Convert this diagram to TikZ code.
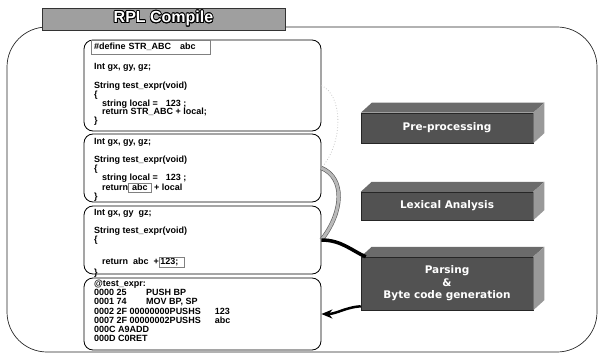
\documentclass[tikz,border=0pt]{standalone}
\usepackage{fontspec}
\setmainfont{Liberation Sans}
\newfontfamily\stagefont{DejaVu Sans}
\usepackage{contour}
\usetikzlibrary{arrows.meta,positioning,calc}

\contourlength{0.8pt}
\newcommand{\tokbox}[1]{{\setlength{\fboxsep}{1pt}\setlength{\fboxrule}{0.4pt}\color{gray}\fbox{\color{black}#1}}}

\begin{document}
\begin{tikzpicture}[x=1pt,y=-1pt,
	frame/.style={draw=black!85,line width=0.7pt,rounded corners=40pt},
	banner/.style={fill=gray!75,draw=black!80,line width=0.6pt,minimum width=243pt,minimum height=22pt,inner sep=0pt,font=\bfseries\fontsize{16}{18}\selectfont},
	codebox/.style={draw=black,line width=0.8pt,rounded corners=9pt,minimum width=237pt,inner sep=0pt},
	code/.style={anchor=north west,inner sep=0pt,align=left,font=\bfseries\fontsize{9}{8.9}\selectfont},
	stage/.style={fill=black!68,draw=black!85,line width=0.5pt,minimum width=172pt,inner sep=0pt,align=center,text=white,font=\stagefont\bfseries\fontsize{10.5}{12.5}\selectfont},
	stagetop/.style={fill=black!58},
	stageside/.style={fill=black!40}]
	\useasboundingbox (0,0) rectangle (601,358);
	% outer frame and title
	\draw[frame] (7,27) rectangle (597,352);
	\node[banner] (title) at (163.5,19) {\contour{black}{\textcolor{white}{RPL Compile}}};
	% code boxes
	\node[codebox,minimum height=91pt] (orig) at (202.5,85.5) {};
	\node[codebox,minimum height=68pt] (prep) at (202.5,168) {};
	\node[codebox,minimum height=68pt] (tok) at (202.5,240) {};
	\node[codebox,minimum height=72pt] (bytec) at (202.5,314) {};
	\node[code,draw=gray,inner xsep=3pt,inner ysep=3pt,text width=113pt] (defline) at (91,40) {\#define STR\_ABC\ \ \ abc};
	\node[code] (origtxt) at (94,63) {Int gx, gy, gz;\\[10pt]
		String test\_expr(void)\\
		\{\\
		\hspace*{8pt}string local =\hspace{8pt}123 ;\\
		\hspace*{8pt}return STR\_ABC + local;\\
		\}};
	\node[code] (preptxt) at (94,138) {Int gx, gy, gz;\\[9pt]
		String test\_expr(void)\\
		\{\\
		\hspace*{8pt}string local =\hspace{8pt}123 ;\\
		\hspace*{8pt}return\tokbox{\ abc\ } + local\\
		\}};
	\node[code] (toktxt) at (94,209) {Int gx, gy\ \ gz;\\[9pt]
		String test\_expr(void)\\
		\{\\[12pt]
		\hspace*{8pt}return\ \ abc\ \ +\tokbox{123;\ \ }\\
		\}};
	\node[code,font=\bfseries\fontsize{9}{9.2}\selectfont] (bytetxt) at (94,280) {@test\_expr:\\
		\makebox[52pt][l]{0000 25}PUSH BP\\
		\makebox[52pt][l]{0001 74}MOV BP, SP\\
		0002 2F 00000000PUSHS\hspace{14pt}123\\
		0007 2F 00000002PUSHS\hspace{14pt}abc\\
		000C A9ADD\\
		000D C0RET};
	% compile stages
	\node[stage,minimum height=30pt] (preproc) at (447,128) {Pre-processing};
	\node[stage,minimum height=28pt] (lexical) at (447,206) {Lexical Analysis};
	\node[stage,minimum height=53pt] (parsing) at (447,283.5) {Parsing\\\&\\Byte code generation};
	\foreach \s in {preproc,lexical,parsing}{
		\fill[stagetop] (\s.north west) -- ++(11,-10) -- ([shift={(11,-10)}]\s.north east) -- (\s.north east) -- cycle;
		\fill[stageside] (\s.north east) -- ++(11,-10) -- ([shift={(11,-10)}]\s.south east) -- (\s.south east) -- cycle;
	}
	% connectors
	\draw[gray!45,dotted,line width=0.8pt] (orig.east) .. controls +(22,10) and +(22,-25) .. (prep.east);
	\draw[draw=gray!70!black,double=gray!55,double distance=3pt,line width=0.6pt] (prep.east) .. controls +(24,10) and +(22,-28) .. (tok.east);
	\draw[line width=3.5pt] (tok.east) .. controls +(20,0) and +(-14,-6) .. ([xshift=5pt]parsing.north west);
	\draw[-{Stealth[length=11pt,width=9pt]},line width=2.5pt] ([yshift=4pt]parsing.south west) .. controls +(-15,1) and +(15,0) .. (bytec.east);
\end{tikzpicture}
\end{document}
